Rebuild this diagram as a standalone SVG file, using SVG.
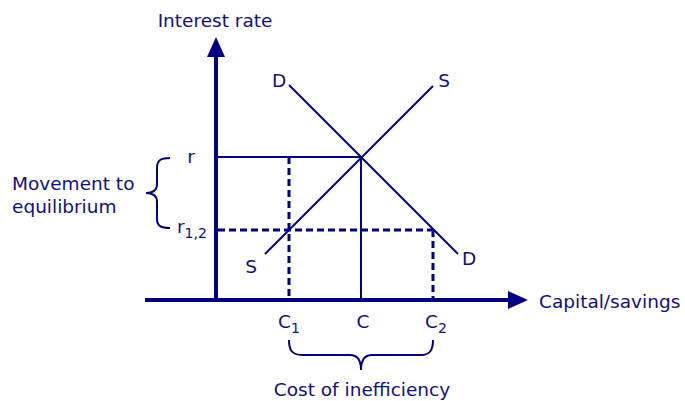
<svg xmlns="http://www.w3.org/2000/svg" width="685" height="401" viewBox="0 0 685 401">
<style>
text{font-family:"DejaVu Sans","Verdana",sans-serif;font-size:18.5px;fill:#101080}
.sub{font-size:14px}
.ln{stroke:#000080;stroke-width:2;fill:none}
.ds{stroke:#000080;stroke-width:3;fill:none;stroke-dasharray:7,4}
.ax{stroke:#000080;stroke-width:4;fill:none}
.br{stroke:#000080;stroke-width:2;fill:none}
</style>
<rect width="685" height="401" fill="#fff"/>
<g id="connectors">
<line class="ax" x1="216" y1="300" x2="216" y2="55"/>
<polygon points="216,37 207,57 225,57" fill="#000080"/>
<line class="ax" x1="145" y1="300" x2="510" y2="300"/>
<polygon points="528,300 508,291 508,309" fill="#000080"/>
<line class="ln" x1="216" y1="157" x2="361" y2="157"/>
<line class="ln" x1="361" y1="157" x2="361" y2="300"/>
<line class="ds" x1="218" y1="230" x2="433" y2="230"/>
<line class="ds" x1="289" y1="157" x2="289" y2="298"/>
<line class="ds" x1="433" y1="230" x2="433" y2="298"/>
<line class="ln" x1="289" y1="85" x2="458" y2="254"/>
<line class="ln" x1="265" y1="254" x2="433" y2="86"/>
</g>
<g id="brace-left">
<path class="br" d="M170,158 C161,158 157,160 157,168 L157,184 C157,190 153,193 146,193 C153,193 157,196 157,202 L157,219 C157,226 161,228 170,228"/>
</g>
<g id="brace-bottom">
<path class="br" d="M289,340 C289,350 292,355 302,355 L350,355 C357,355 361,359 361,370 C361,359 365,355 372,355 L421,355 C430,355 433,350 433,340"/>
</g>
<g id="labels">
<text x="215" y="27" text-anchor="middle">Interest rate</text>
<text x="539" y="308">Capital/savings</text>
<text x="279" y="87" text-anchor="middle">D</text>
<text x="444" y="87" text-anchor="middle">S</text>
<text x="251" y="273" text-anchor="middle">S</text>
<text x="469" y="265" text-anchor="middle">D</text>
<text x="191" y="163" text-anchor="middle">r</text>
<text x="177" y="233">r<tspan class="sub" dy="5">1,2</tspan></text>
<text x="278" y="328">C<tspan class="sub" dy="5">1</tspan></text>
<text x="363" y="328" text-anchor="middle">C</text>
<text x="425" y="328">C<tspan class="sub" dy="5">2</tspan></text>
<text x="12" y="190">Movement to</text>
<text x="12" y="213">equilibrium</text>
<text x="362" y="396" text-anchor="middle">Cost of inefficiency</text>
</g>
</svg>
